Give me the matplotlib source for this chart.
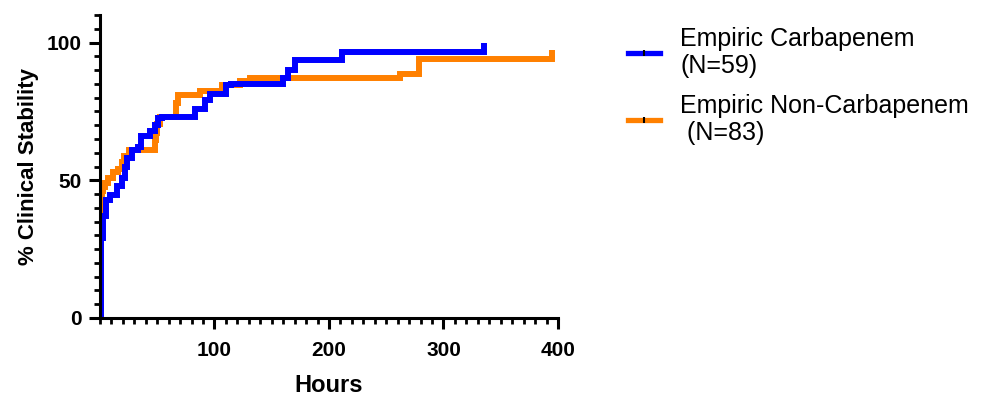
import numpy as np
import matplotlib
matplotlib.use('Agg')
import matplotlib.pyplot as plt
from matplotlib.lines import Line2D
from matplotlib.path import Path
from matplotlib.ticker import MultipleLocator

plt.rcParams['font.family'] = ['Liberation Sans', 'DejaVu Sans']

# step data (hours, % clinical stability)
carb_hours = [0, 1, 3, 5, 9, 15, 19, 22, 24, 28, 33, 36, 44, 48, 51, 54,
              83, 92, 96, 110, 114, 160, 164, 170, 211, 335]
carb_pct = [0, 29, 37, 43, 44.5, 48, 51, 55, 58, 61, 62, 66, 68, 70, 72.5, 73,
            76, 79, 81.5, 84.5, 85, 87, 90, 93.5, 96.5, 96.5]

noncarb_hours = [0, 0.5, 1, 1.5, 3, 4, 7, 11, 16, 19, 21, 25, 48, 49, 50, 52,
                 66, 68, 87, 107, 122, 131, 262, 279, 395]
noncarb_pct = [0, 27.5, 40, 46, 47.5, 49, 51, 53, 54, 56.5, 59, 61, 64.5, 67, 70.5, 73,
               78, 81, 82.5, 84.5, 86, 87, 88.7, 94, 94]

labels = ['Empiric Carbapenem\n(N=59)', 'Empiric Non-Carbapenem\n (N=83)']
colors = ['#0000ff', '#ff8000']

fig = plt.figure(figsize=(9.9, 3.96), dpi=100)
ax = fig.add_axes([0.101, 0.197, 0.4626, 0.765])

up_tick = Path([(0, 0), (0, 1)])
lw = 4.3

ax.step(noncarb_hours, noncarb_pct, where='post', color=colors[1], lw=lw, solid_joinstyle='miter')
ax.plot(noncarb_hours[-1], noncarb_pct[-1], marker=up_tick, ms=13, mew=lw, color=colors[1], ls='none')
ax.step(carb_hours, carb_pct, where='post', color=colors[0], lw=lw, solid_joinstyle='miter')
ax.plot(carb_hours[-1], carb_pct[-1], marker=up_tick, ms=13, mew=lw, color=colors[0], ls='none')

ax.set_xlim(0, 400)
ax.set_ylim(0, 110)
ax.set_xticks([100, 200, 300, 400])
ax.set_yticks([0, 50, 100])
ax.xaxis.set_minor_locator(MultipleLocator(10))
ax.yaxis.set_minor_locator(MultipleLocator(5))

for s in ['top', 'right']:
    ax.spines[s].set_visible(False)
for s in ['left', 'bottom']:
    ax.spines[s].set_linewidth(2.2)
ax.spines['left'].set_bounds(0, 110)

ax.tick_params(which='major', length=8, width=2.2, labelsize=15)
ax.tick_params(which='minor', length=4.5, width=2.0)
ax.tick_params(axis='x', which='major', pad=8.5)
ax.tick_params(axis='y', which='major', pad=5)
for lab in ax.get_xticklabels() + ax.get_yticklabels():
    lab.set_fontweight('bold')

ax.set_xlabel('Hours', fontsize=17, fontweight='bold', labelpad=10)
ax.set_ylabel('% Clinical Stability', fontsize=16, fontweight='bold', labelpad=6)

handles = [Line2D([0], [0], color=c, lw=3.8, marker='|', ms=5, mec='black', mew=1.5) for c in colors]
leg = fig.legend(handles, labels, loc='upper left', bbox_to_anchor=(0.634, 0.932),
                 frameon=False, fontsize=18, handlelength=1.3, handletextpad=0.8,
                 labelspacing=0.65, borderpad=0, borderaxespad=0)
for t in leg.get_texts():
    t.set_linespacing(1.15)

fig.savefig('out.png', dpi=100)
